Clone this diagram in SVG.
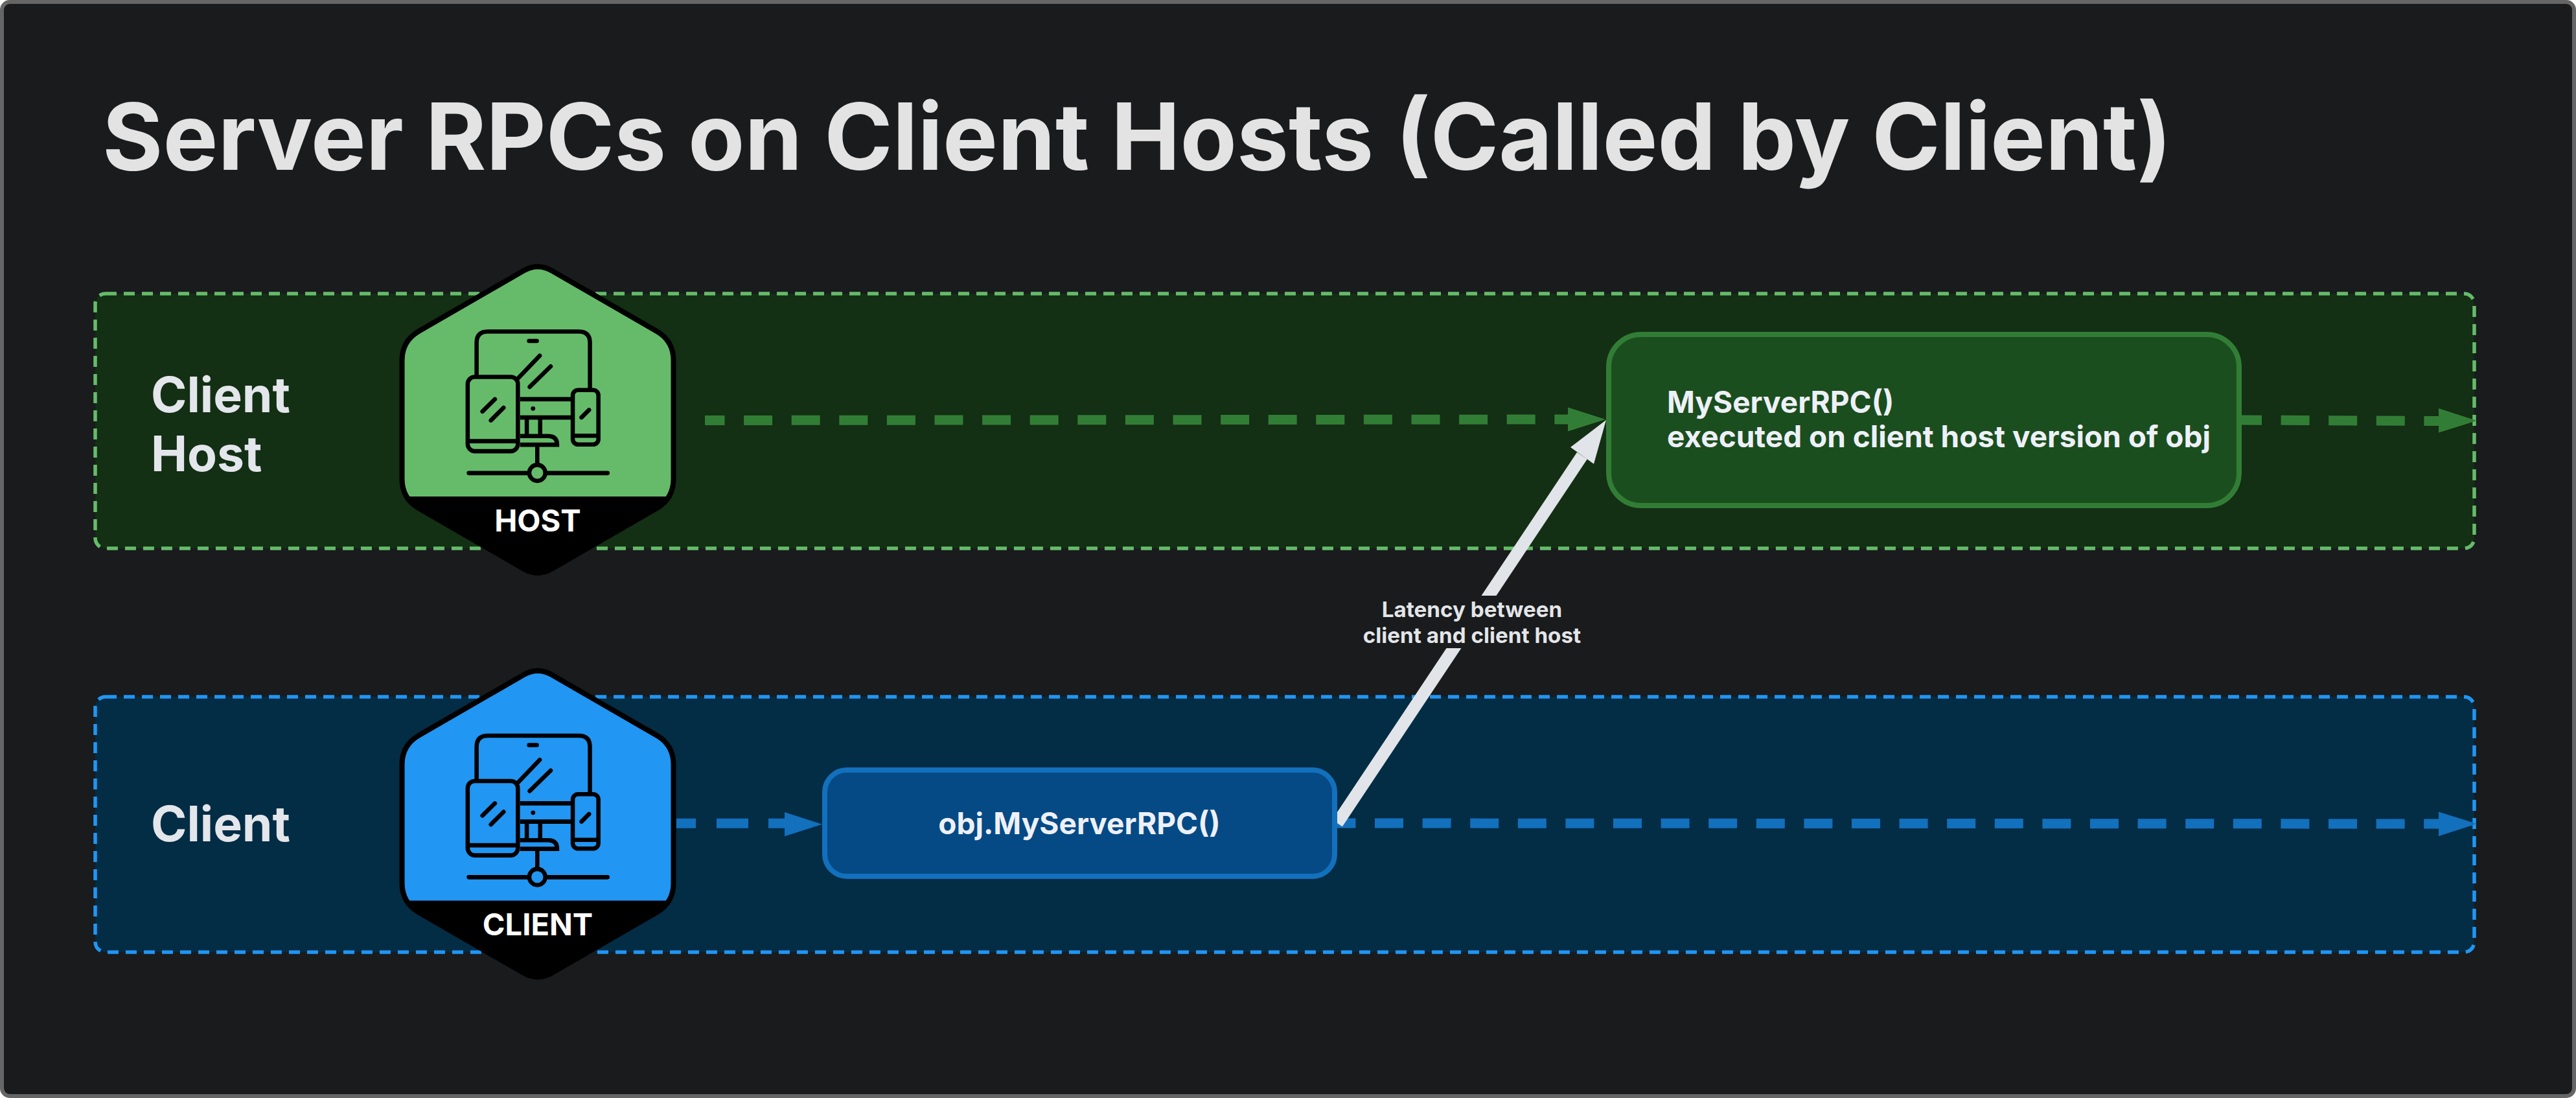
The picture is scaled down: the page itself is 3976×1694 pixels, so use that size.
<svg xmlns="http://www.w3.org/2000/svg" width="3976" height="1694" viewBox="0 0 3976 1694">
<style>
text{font-family:"Inter","Liberation Sans",sans-serif;font-weight:700}
.title{font-size:142.7px;fill:#e3e3e3}
.lane{font-size:75px;fill:#e3e6ea}
.node{font-size:46px;fill:#eef0f8}
.small{font-size:33.2px;fill:#e3e5e8;text-anchor:middle}
.badge{font-size:47px;fill:#fff;text-anchor:middle}
.band{stroke-width:5.5;stroke-dasharray:17 11}
.flow{fill:none;stroke-width:15;stroke-dasharray:44 29.6}
.i{fill:none;stroke:#000;stroke-width:19;stroke-linecap:round}
</style>
<defs>
<path id="hex" d="M808 417.7Q830 405 852 417.7L1013.5 511Q1039.5 526 1039.5 556V739Q1039.5 769 1013.5 784L852 877.3Q830 890 808 877.3L646.5 784Q620.5 769 620.5 739V556Q620.5 526 646.5 511Z" stroke="#000" stroke-width="8"/>
<clipPath id="low"><rect x="600" y="766" width="460" height="140"/></clipPath>
<g id="icon" transform="translate(560 380) scale(.34435)">
<path class="i" d="M510 580V432Q510 382 560 382H968Q1018 382 1018 432V640"/>
<path class="i" d="M745 424H780M697 590L793 490M748 630L842 538M536 740L592 685M574 780L631 723M980 767L1014 733"/>
<rect class="i" x="470" y="585" width="225" height="333" rx="32"/>
<path class="i" d="M470 873H695" style="stroke-linecap:butt"/>
<rect class="i" x="941" y="644" width="115" height="244" rx="24"/>
<path class="i" d="M941 849H1056M705 685H932M705 767H932M735 776V845M795 776V845M705 850H830Q871 850 871 889H705M782 898V975" style="stroke-linecap:butt"/>
<circle cx="763" cy="727" r="10"/>
<circle class="i" cx="782" cy="1015" r="36"/>
<path class="i" d="M475 1016H737M827 1016H1097"/>
</g>
</defs>
<rect id="frame" x="3" y="3" width="3970" height="1688" rx="12" fill="#191b1d" stroke="#666" stroke-width="6"/>
<text class="title" x="158" y="262">Server RPCs on Client Hosts (Called by Client)</text>
<g id="lane-client-host">
<rect class="band" x="147" y="453" width="3672" height="393" rx="16" fill="#132f14" stroke="#66bb6a"/>
<text class="lane" x="233" y="636">Client</text>
<text class="lane" x="233" y="727">Host</text>
</g>
<g id="lane-client">
<rect class="band" x="147" y="1075" width="3672" height="394" rx="16" fill="#032c45" stroke="#2196f3"/>
<text class="lane" x="233" y="1298">Client</text>
</g>
<g id="connectors">
<g stroke="#327d35" fill="#327d35">
<path class="flow" d="M1088 648.5L2420 647" stroke-dashoffset="13.5"/>
<polygon points="2420,628.5 2478,647 2420,665.5" stroke="none"/>
<path class="flow" d="M3460 648L3765 649.5" stroke-dashoffset="13"/>
<polygon points="3764,630 3823,649 3764,667.5" stroke="none"/>
</g>
<g stroke="#1270bd" fill="#1270bd">
<path d="M1044 1270.3H1211" fill="none" stroke-width="15" stroke-dasharray="30 32 49 31"/>
<polygon points="1211,1253 1269,1271.7 1211,1290.3" stroke="none"/>
<path class="flow" d="M2064 1270L3765 1271" stroke-dashoffset="15.6"/>
<polygon points="3764,1252.5 3823,1271 3764,1290" stroke="none"/>
</g>
<path d="M2064 1270L2442 703" stroke="#e1e4e8" stroke-width="19" fill="none"/>
<polygon points="2479,648 2424,690 2460,715.7" fill="#e1e4e8"/>
</g>
<g id="node-host-badge">
<use href="#hex" fill="#66bb6a"/>
<use href="#hex" fill="#000" clip-path="url(#low)"/>
<use href="#icon"/>
<text class="badge" x="830" y="820">HOST</text>
</g>
<g id="node-client-badge">
<g transform="translate(0 623.5)">
<use href="#hex" fill="#2196f3"/>
<use href="#hex" fill="#000" clip-path="url(#low)"/>
<use href="#icon"/>
</g>
<text class="badge" x="830" y="1443">CLIENT</text>
</g>
<g id="node-call">
<rect x="1273" y="1188" width="787" height="164" rx="34" fill="#054a85" stroke="#1270bd" stroke-width="8"/>
<text class="node" x="1666" y="1287" text-anchor="middle">obj.MyServerRPC()</text>
</g>
<g id="node-exec">
<rect x="2483" y="516" width="973" height="264" rx="50" fill="#1b4e1e" stroke="#327d35" stroke-width="8"/>
<text class="node" x="2573" y="637">MyServerRPC()</text>
<text class="node" x="2573" y="690">executed on client host version of obj</text>
</g>
<g id="label-latency">
<rect x="2095" y="919" width="345" height="81" fill="#191b1d"/>
<text class="small" x="2272" y="952">Latency between</text>
<text class="small" x="2272" y="992">client and client host</text>
</g>
</svg>
